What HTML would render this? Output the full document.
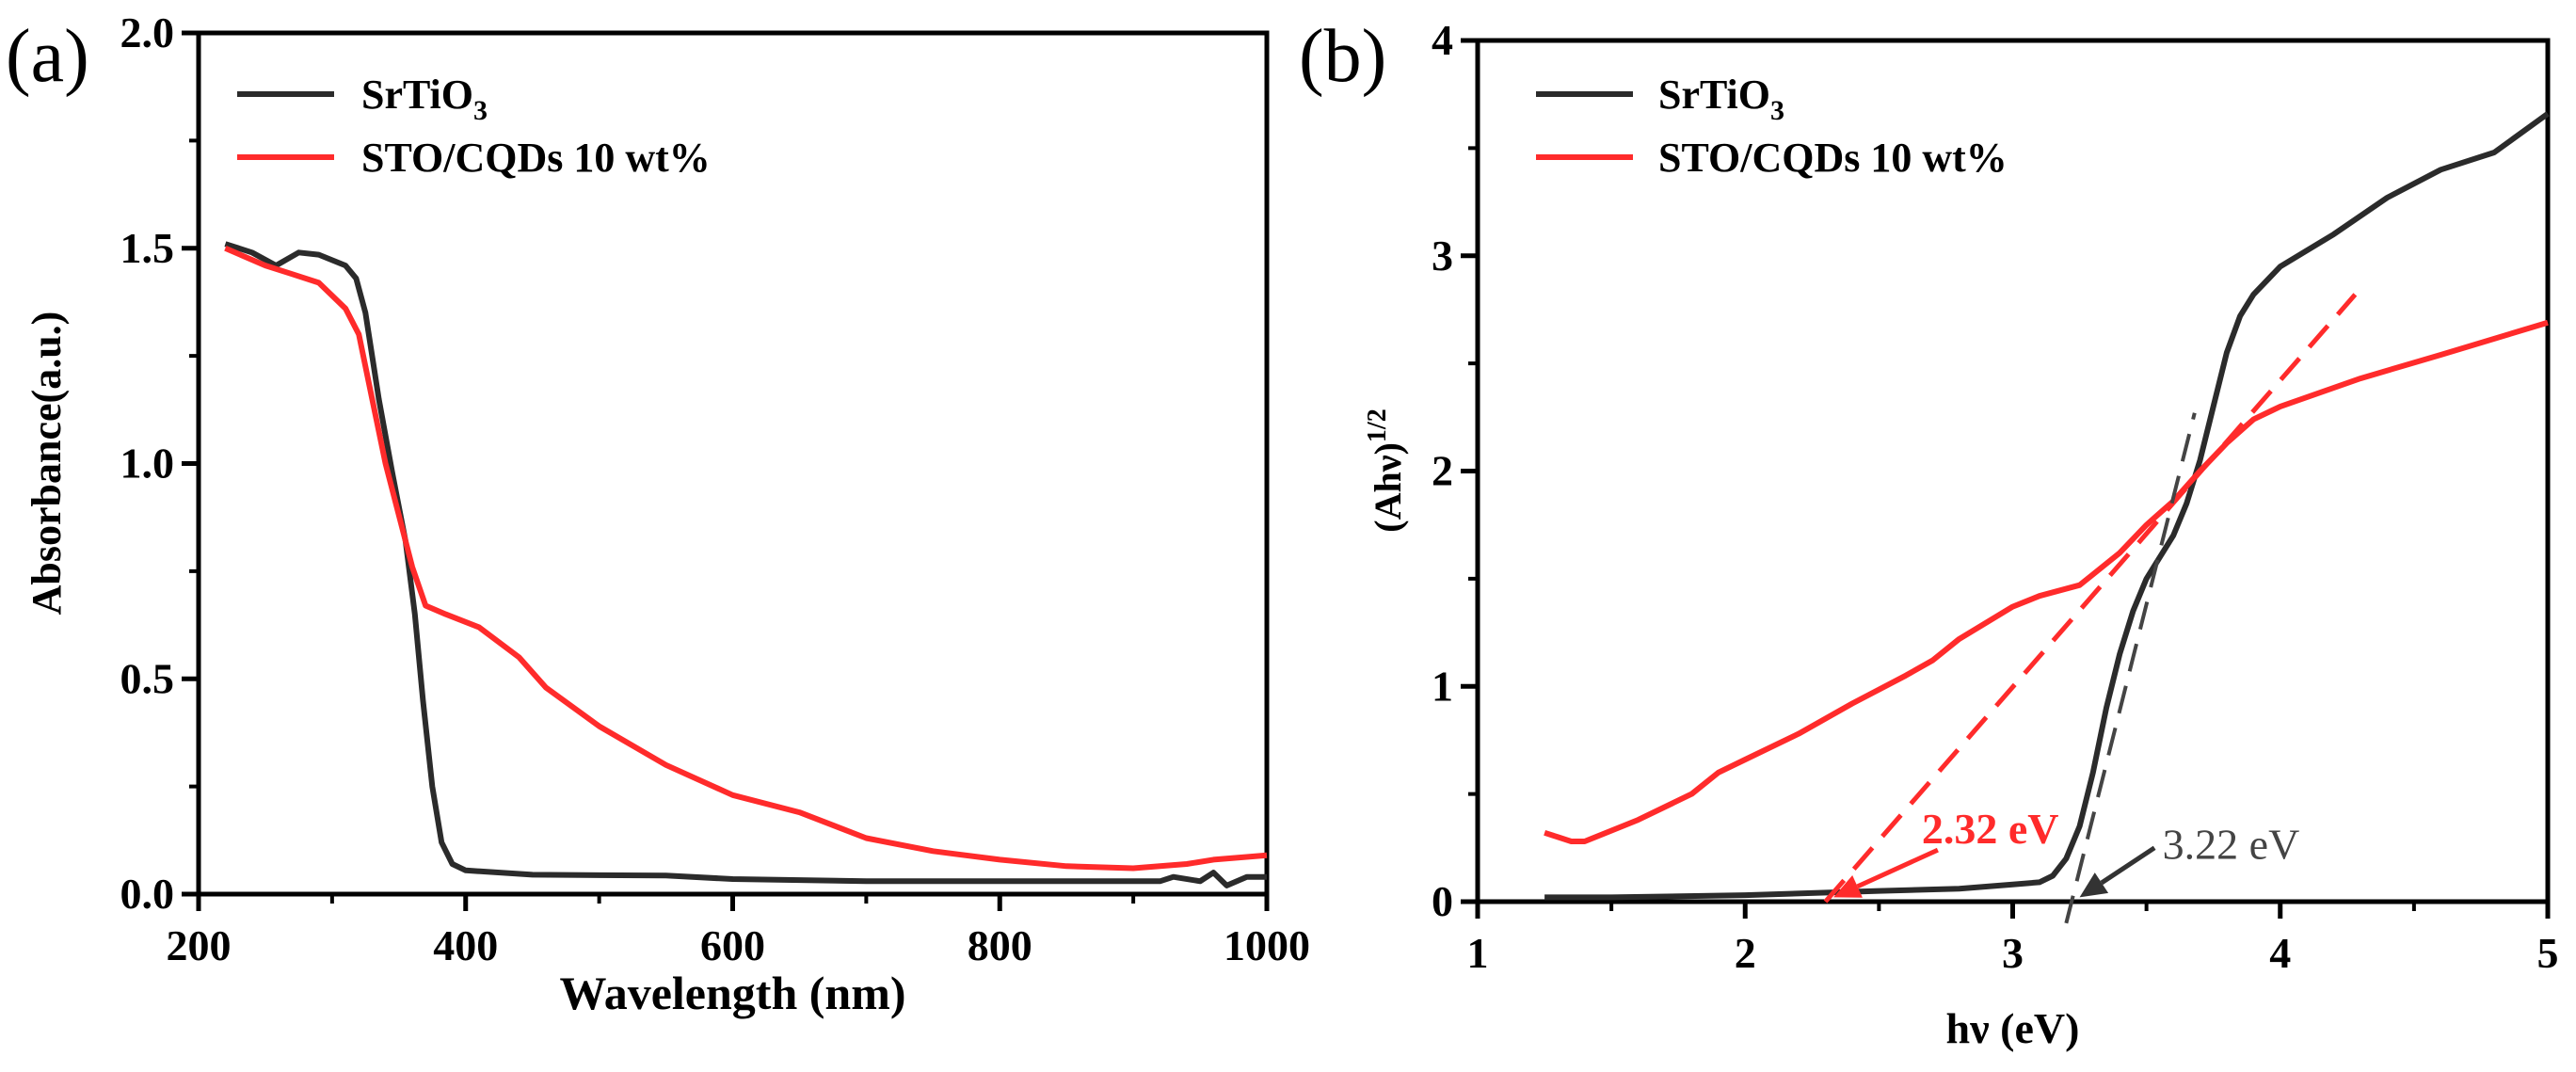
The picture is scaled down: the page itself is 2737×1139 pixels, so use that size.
<!DOCTYPE html>
<html><head><meta charset="utf-8"><style>
html,body{margin:0;padding:0;background:#fff;}
svg{display:block;font-family:"Liberation Serif",serif;}
</style></head><body>
<svg id="fig" width="2737" height="1139" viewBox="0 0 2737 1139"></svg>
<script>
const aWave=[220,240,258,275,290,310,318,325,335,345,355,362,368,375,382,390,400,450,550,600,700,900,920,930,950,960,970,985,1000];
const aBlack=[1.51,1.49,1.46,1.49,1.485,1.46,1.43,1.35,1.15,0.98,0.82,0.65,0.45,0.25,0.12,0.07,0.055,0.045,0.043,0.035,0.03,0.03,0.03,0.04,0.03,0.05,0.02,0.04,0.04];
const aWaveR=[220,250,270,290,310,320,330,340,350,360,370,385,410,440,460,500,550,600,650,700,750,800,850,900,920,940,960,1000];
const aRed=[1.50,1.46,1.44,1.42,1.36,1.3,1.15,1.0,0.88,0.76,0.67,0.65,0.62,0.55,0.48,0.39,0.30,0.23,0.19,0.13,0.10,0.08,0.065,0.06,0.065,0.07,0.08,0.09];
const bE=[1.25,1.5,2,2.5,2.8,3.0,3.1,3.15,3.2,3.25,3.3,3.35,3.4,3.45,3.5,3.6,3.65,3.7,3.75,3.8,3.85,3.9,4.0,4.2,4.4,4.6,4.8,5.0];
const bBlack=[0.02,0.02,0.03,0.05,0.06,0.08,0.09,0.12,0.2,0.35,0.6,0.9,1.15,1.35,1.5,1.7,1.85,2.05,2.3,2.55,2.72,2.82,2.95,3.1,3.27,3.4,3.48,3.66];
const bER=[1.25,1.3,1.35,1.4,1.6,1.8,1.9,2.0,2.2,2.4,2.6,2.7,2.8,3.0,3.1,3.25,3.3,3.4,3.5,3.6,3.7,3.8,3.9,4.0,4.3,4.6,5.0];
const bRed=[0.32,0.30,0.28,0.28,0.38,0.5,0.6,0.66,0.78,0.92,1.05,1.12,1.22,1.37,1.42,1.47,1.52,1.62,1.75,1.86,2.0,2.13,2.24,2.3,2.43,2.54,2.69];
const aXTicks=[200,400,600,800,1000];
const aYTicks=[0,0.5,1.0,1.5,2.0];
const bXTicks=[1,2,3,4,5];
const bYTicks=[0,1,2,3,4];
const redFit=[[2.3,0],[4.28,2.82]];
const blackFit=[[3.2,-0.1],[3.68,2.27]];

const NS="http://www.w3.org/2000/svg";
const svg=document.getElementById('fig');
function mk(tag,attrs,parent){const e=document.createElementNS(NS,tag);for(const k in attrs)e.setAttribute(k,attrs[k]);(parent||svg).appendChild(e);return e;}
function txt(s,attrs,parent){const e=mk('text',attrs,parent);e.textContent=s;return e;}

const A={x0:211,x1:1346,y0:950,y1:35,xmin:200,xmax:1000,ymin:0,ymax:2};
const B={x0:1570,x1:2707,y0:958,y1:43,xmin:1,xmax:5,ymin:0,ymax:4};
function sx(P,v){return P.x0+(v-P.xmin)/(P.xmax-P.xmin)*(P.x1-P.x0);}
function sy(P,v){return P.y0-(v-P.ymin)/(P.ymax-P.ymin)*(P.y0-P.y1);}

function axes(P,xt,yt,fmtY,name){
  const g=mk('g',{});
  
  
  const f=mk('rect',{x:P.x0,y:P.y1,width:P.x1-P.x0,height:P.y0-P.y1,fill:'none',stroke:'#000','stroke-width':5},g);
  
  
  xt.forEach((v,i)=>{const x=sx(P,v);
    mk('line',{x1:x,y1:P.y0,x2:x,y2:P.y0+18,stroke:'#000','stroke-width':5},g);
    if(i<xt.length-1){const xm=sx(P,v+(xt[1]-xt[0])/2);mk('line',{x1:xm,y1:P.y0,x2:xm,y2:P.y0+10,stroke:'#000','stroke-width':4},g);}
    const t=txt(String(v),{x:x,y:P.y0+70,'font-size':46,'font-weight':'bold','text-anchor':'middle'},g);
    
    
  });
  yt.forEach((v,i)=>{const y=sy(P,v);
    mk('line',{x1:P.x0-18,y1:y,x2:P.x0,y2:y,stroke:'#000','stroke-width':5},g);
    if(i<yt.length-1){const ym=sy(P,v+(yt[1]-yt[0])/2);mk('line',{x1:P.x0-10,y1:ym,x2:P.x0,y2:ym,stroke:'#000','stroke-width':4},g);}
    const t=txt(fmtY(v),{x:P.x0-26,y:y+15,'font-size':46,'font-weight':'bold','text-anchor':'end'},g);
    
    
  });
}
function line(P,xs,ys,color,name){
  const d=xs.map((v,i)=>(i?'L':'M')+sx(P,v).toFixed(1)+','+sy(P,ys[i]).toFixed(1)).join(' ');
  const p=mk('path',{d:d,fill:'none',stroke:color,'stroke-width':6,'stroke-linejoin':'round'});
  
  
}
function legend(lx,tx,name){
  const items=[['#2b2b2b','SrTiO','3'],['#ff2b2b','STO/CQDs 10 wt%','']];
  items.forEach((it,i)=>{const y=100+i*67;
    const l=mk('line',{x1:lx,y1:y,x2:lx+103,y2:y,stroke:it[0],'stroke-width':6});
    
    
    const t=txt(it[1],{x:tx,y:y+15,'font-size':44,'font-weight':'bold'});
    
    
    if(it[2]){const s=mk('tspan',{'font-size':30,dy:12},t);s.textContent=it[2];}
  });
}

// Panel a
axes(A,aXTicks,aYTicks,v=>v.toFixed(1),'panel-a');
line(A,aWave,aBlack,'#2b2b2b','panel-a-srtio3-line');
line(A,aWaveR,aRed,'#ff2b2b','panel-a-sto-cqds-line');
legend(252,384,'panel-a');
let t=txt('(a)',{x:6,y:86,'font-size':80});

t=txt('Wavelength (nm)',{x:(A.x0+A.x1)/2,y:1072,'font-size':50,'font-weight':'bold','text-anchor':'middle'});

t=txt('Absorbance(a.u.)',{x:0,y:0,'font-size':44,'font-weight':'bold','text-anchor':'middle',transform:'translate(64,492) rotate(-90)'});


// Panel b
axes(B,bXTicks,bYTicks,v=>String(v),'panel-b');
line(B,bE,bBlack,'#2b2b2b','panel-b-srtio3-line');
line(B,bER,bRed,'#ff2b2b','panel-b-sto-cqds-line');
let dl=mk('line',{x1:sx(B,redFit[0][0]),y1:sy(B,redFit[0][1]),x2:sx(B,redFit[1][0]),y2:sy(B,redFit[1][1]),stroke:'#ff2b2b','stroke-width':5,'stroke-dasharray':'30,16'});

dl=mk('line',{x1:sx(B,blackFit[0][0]),y1:sy(B,blackFit[0][1]),x2:sx(B,blackFit[1][0]),y2:sy(B,blackFit[1][1]),stroke:'#444','stroke-width':4,'stroke-dasharray':'30,16'});

function arrow(x1,y1,x2,y2,color,name){
  const g=mk('g',{});
  
  
  const X1=sx(B,x1),Y1=sy(B,y1),X2=sx(B,x2),Y2=sy(B,y2);
  const ang=Math.atan2(Y2-Y1,X2-X1),L=28,W=13;
  const bx=X2-L*Math.cos(ang),by=Y2-L*Math.sin(ang);
  mk('line',{x1:X1,y1:Y1,x2:bx,y2:by,stroke:color,'stroke-width':5},g);
  mk('polygon',{points:`${X2},${Y2} ${bx+W*Math.sin(ang)},${by-W*Math.cos(ang)} ${bx-W*Math.sin(ang)},${by+W*Math.cos(ang)}`,fill:color},g);
}
arrow(2.72,0.24,2.33,0.02,'#ff2b2b','red-arrow');
arrow(3.53,0.25,3.25,0.02,'#333','black-arrow');
t=txt('2.32 eV',{x:sx(B,2.66),y:sy(B,0.27),'font-size':46,'font-weight':'bold',fill:'#ff2b2b'});

t=txt('3.22 eV',{x:sx(B,3.56),y:sy(B,0.2),'font-size':46,fill:'#444'});

legend(1632,1762,'panel-b');
t=txt('(b)',{x:1380,y:86,'font-size':80});

t=txt('hν (eV)',{x:(B.x0+B.x1)/2,y:1108,'font-size':46,'font-weight':'bold','text-anchor':'middle'});

t=txt('',{x:0,y:0,'font-size':40,'font-weight':'bold','text-anchor':'middle',transform:'translate(1488,500) rotate(-90)'});

t.textContent='(Ahν)';
const sup=mk('tspan',{'font-size':28,dy:-16},t);sup.textContent='1/2';
</script>
</body></html>
